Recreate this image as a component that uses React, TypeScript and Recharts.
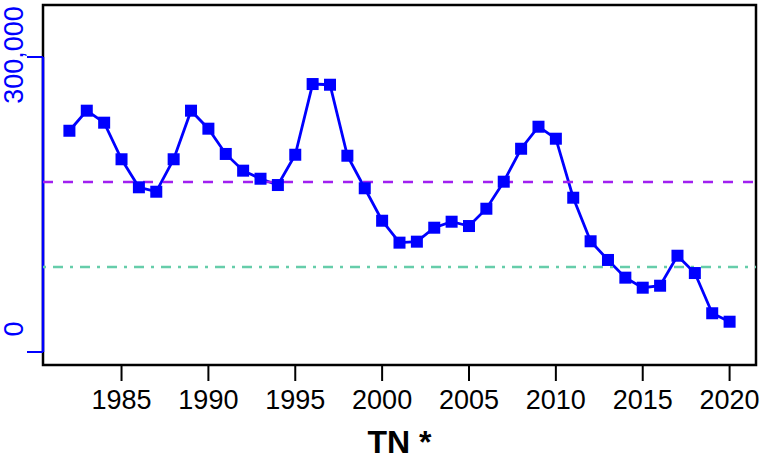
import { LineChart, Line, XAxis, YAxis, ReferenceLine, ReferenceArea } from "recharts"

const years = [
  1982, 1983, 1984, 1985, 1986, 1987, 1988, 1989, 1990, 1991, 1992, 1993, 1994,
  1995, 1996, 1997, 1998, 1999, 2000, 2001, 2002, 2003, 2004, 2005, 2006, 2007,
  2008, 2009, 2010, 2011, 2012, 2013, 2014, 2015, 2016, 2017, 2018, 2019, 2020,
]
const values = [
  225000, 245400, 233200, 196000, 167500, 163000, 196000, 245400, 227100, 201400,
  184400, 176200, 169800, 200600, 272500, 271800, 199600, 166500, 133500, 111200,
  112200, 126400, 132500, 128100, 145700, 173200, 206700, 229100, 216900, 156900,
  112600, 93600, 75600, 65400, 67400, 97900, 80300, 39400, 30800,
]
const xTicks = [1985, 1990, 1995, 2000, 2005, 2010, 2015, 2020]
const yTicks = [0, 300000]
const meanLevel = 172900
const halfLevel = 86440
const title = "TN *"

const X_MIN = 1980.48
const X_MAX = 2021.52
const Y_MIN = -13220
const Y_MAX = 352880

const FONT = "'Liberation Sans', Arial, sans-serif"
const BLUE = "#0000FF"

const data = years.map((year, i) => ({ year, value: values[i] }))

const SquareDot = (props: any) => {
  const { cx, cy } = props
  if (cx == null || cy == null) return null
  return <rect x={cx - 6} y={cy - 6} width={12} height={12} fill={BLUE} />
}

const XTick = (props: any) => {
  const { x, y, payload } = props
  return (
    <text x={x} y={y + 26} textAnchor="middle" fontFamily={FONT} fontSize={27} fill="#000">
      {payload.value}
    </text>
  )
}

const YTick = (props: any) => {
  const { x, y, payload } = props
  const off = payload.value === 0 ? -23 : -2
  return (
    <text
      x={0}
      y={0}
      transform={`translate(${x - 2}, ${y + off}) rotate(-90)`}
      textAnchor="middle"
      fontFamily={FONT}
      fontSize={27}
      fill={BLUE}
    >
      {payload.value.toLocaleString("en-US")}
    </text>
  )
}

const TitleLabel = () => (
  <text x={399.5} y={453} textAnchor="middle" fontFamily={FONT} fontSize={32} fontWeight="bold" fill="#000">
    {title}
  </text>
)

export default function App() {
  return (
    <div style={{ position: "absolute", left: 0, top: 0, background: "#fff" }}>
      <LineChart width={764} height={460} data={data} margin={{ top: 5, right: 8, bottom: 0, left: 0 }}>
        <XAxis
          dataKey="year"
          type="number"
          domain={[X_MIN, X_MAX]}
          allowDataOverflow
          ticks={xTicks}
          height={95}
          axisLine={false}
          tickLine={{ stroke: "#000", strokeWidth: 2 }}
          tickSize={16}
          tick={<XTick />}
          label={<TitleLabel />}
        />
        <YAxis
          type="number"
          domain={[Y_MIN, Y_MAX]}
          allowDataOverflow
          ticks={yTicks}
          width={43}
          axisLine={false}
          tickLine={{ stroke: BLUE, strokeWidth: 2 }}
          tickSize={16}
          tick={<YTick />}
        />
        <ReferenceArea
          x1={X_MIN}
          x2={X_MAX}
          y1={Y_MIN}
          y2={Y_MAX}
          fill="none"
          fillOpacity={0}
          stroke="#000"
          strokeWidth={2.5}
        />
        <ReferenceLine
          segment={[
            { x: X_MIN, y: 0 },
            { x: X_MIN, y: 300000 },
          ]}
          stroke={BLUE}
          strokeWidth={2.5}
        />
        <Line
          dataKey="value"
          stroke={BLUE}
          strokeWidth={2.8}
          dot={<SquareDot />}
          isAnimationActive={false}
        />
        <ReferenceLine y={meanLevel} stroke="#A020F0" strokeWidth={2.5} strokeDasharray="10 10" />
        <ReferenceLine y={halfLevel} stroke="#66CDAA" strokeWidth={2.5} strokeDasharray="3 7 10 7" />
      </LineChart>
    </div>
  )
}
